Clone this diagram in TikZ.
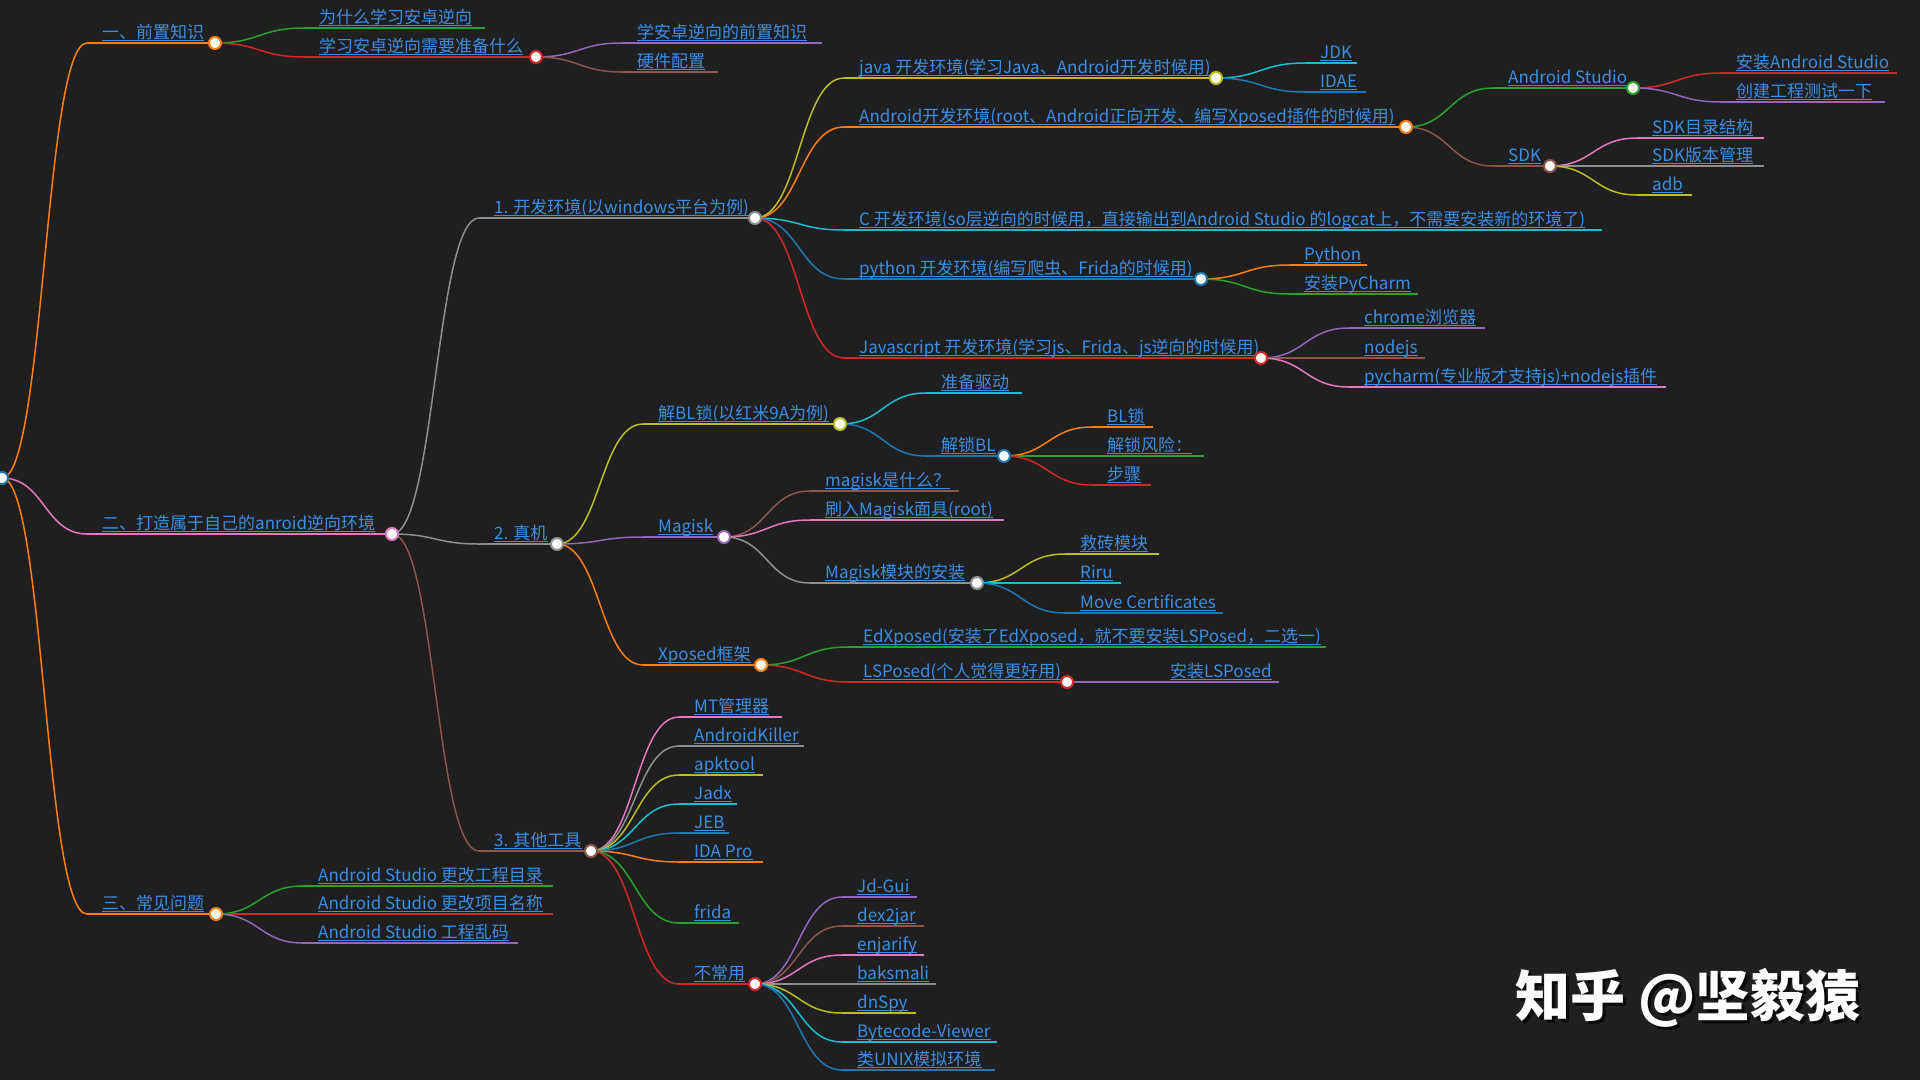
\documentclass[tikz,border=0pt]{standalone}
\usepackage{fontspec}
\setmainfont{Noto Sans CJK SC}
\usetikzlibrary{calc}
\definecolor{bg}{HTML}{1F1F1F}
\definecolor{linkblue}{HTML}{3A8EE6}
\definecolor{mblue}{HTML}{1F77B4}
\definecolor{morange}{HTML}{FF7F0E}
\definecolor{mgreen}{HTML}{2CA02C}
\definecolor{mred}{HTML}{D62728}
\definecolor{mpurple}{HTML}{9467BD}
\definecolor{mbrown}{HTML}{8C564B}
\definecolor{mpink}{HTML}{E377C2}
\definecolor{mgray}{HTML}{8F8F8F}
\definecolor{molive}{HTML}{BCBD22}
\definecolor{mcyan}{HTML}{17BECF}
\tikzset{
  link/.style={line width=1.5pt},
  hline/.style={line width=2.2pt},
  uline/.style={draw=linkblue,line width=1.1pt},
  lbl/.style={font=\fontsize{17}{20}\selectfont,text=linkblue,inner sep=0pt,anchor=base west},
  dotc/.style={circle,fill=white,line width=2pt,minimum size=12pt,inner sep=0pt},
}
\newcommand\br[7]{%
  \coordinate (#2-s) at ({#4-15},#5);
  \coordinate (#2) at (#6,#5);
  \draw[link,#3] let \p1=(#1), \p2=(#2-s) in (\p1) .. controls ({(\x1+\x2)/2},\y1) and ({(\x1+\x2)/2},\y2) .. (\p2);
  \draw[hline,#3] (#2-s) -- (#2);
  \node[lbl] (#2-t) at (#4,{#5-4.8}) {#7};
  \draw[uline] ($(#2-t.base west)+(0,2.4)$) -- ($(#2-t.base east)+(0,2.4)$);
}
\newcommand\mmdot[2]{\node[dotc,draw=#2] (#1-c) at (#1) {};}
\begin{document}
\begin{tikzpicture}[x=1pt,y=-1pt]
\fill[bg] (0,0) rectangle (1920,1080);
\useasboundingbox (0,0) rectangle (1920,1080);
\coordinate (R) at (2,478);
% level 1
\br{R}{A}{morange}{102}{43}{215}{一、前置知识}
\br{R}{B}{mpink}{102}{534}{392}{二、打造属于自己的anroid逆向环境}
\br{R}{C}{morange}{102}{914}{216}{三、常见问题}
% under A
\br{A}{A1}{mgreen}{319}{28}{485}{为什么学习安卓逆向}
\br{A}{A2}{mred}{319}{57}{536}{学习安卓逆向需要准备什么}
\br{A2}{A2a}{mpurple}{637}{43}{822}{学安卓逆向的前置知识}
\br{A2}{A2b}{mbrown}{637}{72}{718}{硬件配置}
% under B
\br{B}{B1}{mgray}{494}{218}{755}{1. 开发环境(以windows平台为例)}
\br{B}{B2}{mgray}{494}{544}{557}{2. 真机}
\br{B}{B3}{mbrown}{494}{851}{591}{3. 其他工具}
% B1
\br{B1}{B1a}{molive}{859}{78}{1216}{java 开发环境(学习Java、Android开发时候用)}
\br{B1a}{JDK}{mcyan}{1320}{63}{1357}{JDK}
\br{B1a}{IDAE}{mblue}{1320}{92}{1366}{IDAE}
\br{B1}{B1b}{morange}{859}{127}{1406}{Android开发环境(root、Android正向开发、编写Xposed插件的时候用)}
\br{B1b}{AS}{mgreen}{1508}{88}{1633}{Android Studio}
\br{AS}{AS1}{mred}{1736}{73}{1897}{安装Android Studio}
\br{AS}{AS2}{mpurple}{1736}{102}{1885}{创建工程测试一下}
\br{B1b}{SDK}{mbrown}{1508}{166}{1550}{SDK}
\br{SDK}{SDK1}{mpink}{1652}{138}{1764}{SDK目录结构}
\br{SDK}{SDK2}{mgray}{1652}{166}{1764}{SDK版本管理}
\br{SDK}{SDK3}{molive}{1652}{195}{1692}{adb}
\br{B1}{B1c}{mcyan}{859}{230}{1602}{C 开发环境(so层逆向的时候用，直接输出到Android Studio 的logcat上，不需要安装新的环境了)}
\br{B1}{B1d}{mblue}{859}{279}{1201}{python 开发环境(编写爬虫、Frida的时候用)}
\br{B1d}{PY1}{morange}{1304}{265}{1367}{Python}
\br{B1d}{PY2}{mgreen}{1304}{294}{1418}{安装PyCharm}
\br{B1}{B1e}{mred}{859}{358}{1261}{Javascript 开发环境(学习js、Frida、js逆向的时候用)}
\br{B1e}{JS1}{mpurple}{1364}{328}{1485}{chrome浏览器}
\br{B1e}{JS2}{mbrown}{1364}{358}{1425}{nodejs}
\br{B1e}{JS3}{mpink}{1364}{387}{1666}{pycharm(专业版才支持js)+nodejs插件}
% B2
\br{B2}{B2a}{molive}{658}{424}{840}{解BL锁(以红米9A为例)}
\br{B2a}{BL1}{mcyan}{941}{393}{1022}{准备驱动}
\br{B2a}{BL2}{mblue}{941}{456}{1004}{解锁BL}
\br{BL2}{BL21}{morange}{1107}{427}{1153}{BL锁}
\br{BL2}{BL22}{mgreen}{1107}{456}{1204}{解锁风险：}
\br{BL2}{BL23}{mred}{1107}{485}{1151}{步骤}
\br{B2}{B2b}{mpurple}{658}{537}{724}{Magisk}
\br{B2b}{MG1}{mbrown}{825}{491}{959}{magisk是什么？}
\br{B2b}{MG2}{mpink}{825}{520}{1004}{刷入Magisk面具(root)}
\br{B2b}{MG3}{mgray}{825}{583}{977}{Magisk模块的安装}
\br{MG3}{MG31}{molive}{1080}{554}{1159}{救砖模块}
\br{MG3}{MG32}{mcyan}{1080}{583}{1121}{Riru}
\br{MG3}{MG33}{mblue}{1080}{613}{1223}{Move Certificates}
\br{B2}{B2c}{morange}{658}{665}{761}{Xposed框架}
\br{B2c}{XP1}{mgreen}{863}{647}{1326}{EdXposed(安装了EdXposed，就不要安装LSPosed，二选一)}
\br{B2c}{XP2}{mred}{863}{682}{1067}{LSPosed(个人觉得更好用)}
\br{XP2}{XP21}{mpurple}{1170}{682}{1279}{安装LSPosed}
% B3
\br{B3}{T1}{mpink}{694}{717}{782}{MT管理器}
\br{B3}{T2}{mgray}{694}{746}{804}{AndroidKiller}
\br{B3}{T3}{molive}{694}{775}{763}{apktool}
\br{B3}{T4}{mcyan}{694}{804}{737}{Jadx}
\br{B3}{T5}{mblue}{694}{833}{729}{JEB}
\br{B3}{T6}{morange}{694}{862}{763}{IDA Pro}
\br{B3}{T7}{mgreen}{694}{923}{739}{frida}
\br{B3}{T8}{mred}{694}{984}{755}{不常用}
\br{T8}{U1}{mpurple}{857}{897}{917}{Jd-Gui}
\br{T8}{U2}{mbrown}{857}{926}{924}{dex2jar}
\br{T8}{U3}{mpink}{857}{955}{924}{enjarify}
\br{T8}{U4}{mgray}{857}{984}{936}{baksmali}
\br{T8}{U5}{molive}{857}{1013}{916}{dnSpy}
\br{T8}{U6}{mcyan}{857}{1042}{997}{Bytecode-Viewer}
\br{T8}{U7}{mblue}{857}{1070}{995}{类UNIX模拟环境}
% C
\br{C}{C1}{mgreen}{318}{886}{553}{Android Studio 更改工程目录}
\br{C}{C2}{mred}{318}{914}{553}{Android Studio 更改项目名称}
\br{C}{C3}{mpurple}{318}{943}{518}{Android Studio 工程乱码}
% circles
\mmdot{R}{mblue}
\mmdot{A}{morange}
\mmdot{A2}{mred}
\mmdot{B}{mpink}
\mmdot{B1}{mgray}
\mmdot{B1a}{molive}
\mmdot{B1b}{morange}
\mmdot{AS}{mgreen}
\mmdot{SDK}{mbrown}
\mmdot{B1d}{mblue}
\mmdot{B1e}{mred}
\mmdot{B2}{mgray}
\mmdot{B2a}{molive}
\mmdot{BL2}{mblue}
\mmdot{B2b}{mpurple}
\mmdot{MG3}{mgray}
\mmdot{B2c}{morange}
\mmdot{XP2}{mred}
\mmdot{B3}{mbrown}
\mmdot{T8}{mred}
\mmdot{C}{morange}
% watermark
\node[anchor=base west,font=\fontsize{55}{60}\selectfont\bfseries,text=black,opacity=0.7] (wms) at (1515,1019) {知乎 @坚毅猿};
\node[anchor=base west,font=\fontsize{55}{60}\selectfont\bfseries,text=white] (wm) at (1512,1016) {知乎 @坚毅猿};
\end{tikzpicture}
\end{document}
